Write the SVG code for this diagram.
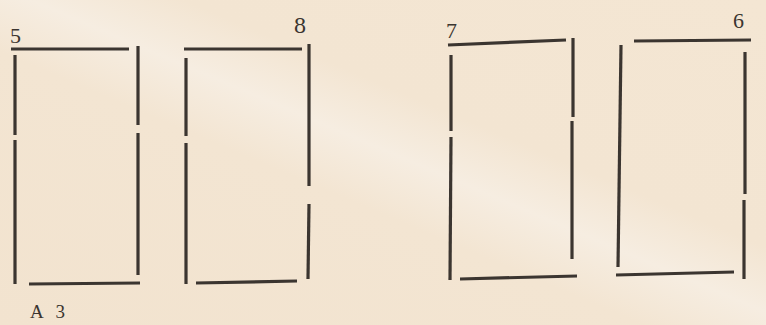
<svg xmlns="http://www.w3.org/2000/svg" width="766" height="325" viewBox="0 0 766 325">
<style>
.ln{stroke:#3b3530;stroke-width:3.2;stroke-linecap:butt;fill:none}
.lb{font-family:"Liberation Serif","DejaVu Serif",serif;fill:#3b3530}
</style>
<defs>
<linearGradient id="bg" x1="0" y1="1" x2="1" y2="0">
<stop offset="0" stop-color="#f2e3cf"/>
<stop offset="0.42" stop-color="#f3e5d2"/>
<stop offset="0.52" stop-color="#f6ede1"/>
<stop offset="0.62" stop-color="#f3e5d2"/>
<stop offset="1" stop-color="#f4e6d3"/>
</linearGradient>
</defs>
<rect width="766" height="325" fill="url(#bg)"/>
<g id="rect5">
<text class="lb" x="10" y="43" font-size="22">5</text>
<line class="ln" x1="11" y1="49" x2="129" y2="49"/>
<line class="ln" x1="15" y1="55" x2="15" y2="135"/>
<line class="ln" x1="15" y1="140" x2="15" y2="284"/>
<line class="ln" x1="138" y1="46" x2="138" y2="125"/>
<line class="ln" x1="138" y1="133" x2="138" y2="275"/>
<line class="ln" x1="29" y1="284" x2="140" y2="283"/>
</g>
<g id="rect8">
<text class="lb" x="294" y="33" font-size="24">8</text>
<line class="ln" x1="184" y1="49" x2="302" y2="49"/>
<line class="ln" x1="186" y1="58" x2="186" y2="136"/>
<line class="ln" x1="186" y1="143" x2="186" y2="284"/>
<line class="ln" x1="309" y1="44" x2="309" y2="186"/>
<line class="ln" x1="309" y1="204" x2="308" y2="279"/>
<line class="ln" x1="196" y1="283" x2="297" y2="281"/>
</g>
<g id="rect7">
<text class="lb" x="446" y="38" font-size="22">7</text>
<line class="ln" x1="448" y1="45" x2="566" y2="40"/>
<line class="ln" x1="451" y1="55" x2="451" y2="131"/>
<line class="ln" x1="451" y1="137" x2="450" y2="280"/>
<line class="ln" x1="573" y1="38" x2="573" y2="117"/>
<line class="ln" x1="572" y1="121" x2="572" y2="259"/>
<line class="ln" x1="460" y1="279" x2="577" y2="276"/>
</g>
<g id="rect6">
<text class="lb" x="733" y="28" font-size="22">6</text>
<line class="ln" x1="634" y1="41" x2="751" y2="40"/>
<line class="ln" x1="621" y1="45" x2="618" y2="267"/>
<line class="ln" x1="745" y1="52" x2="745" y2="194"/>
<line class="ln" x1="744" y1="200" x2="744" y2="279"/>
<line class="ln" x1="616" y1="275" x2="734" y2="272"/>
</g>
<text class="lb" x="30" y="318" font-size="19" word-spacing="8">A 3</text>
</svg>
